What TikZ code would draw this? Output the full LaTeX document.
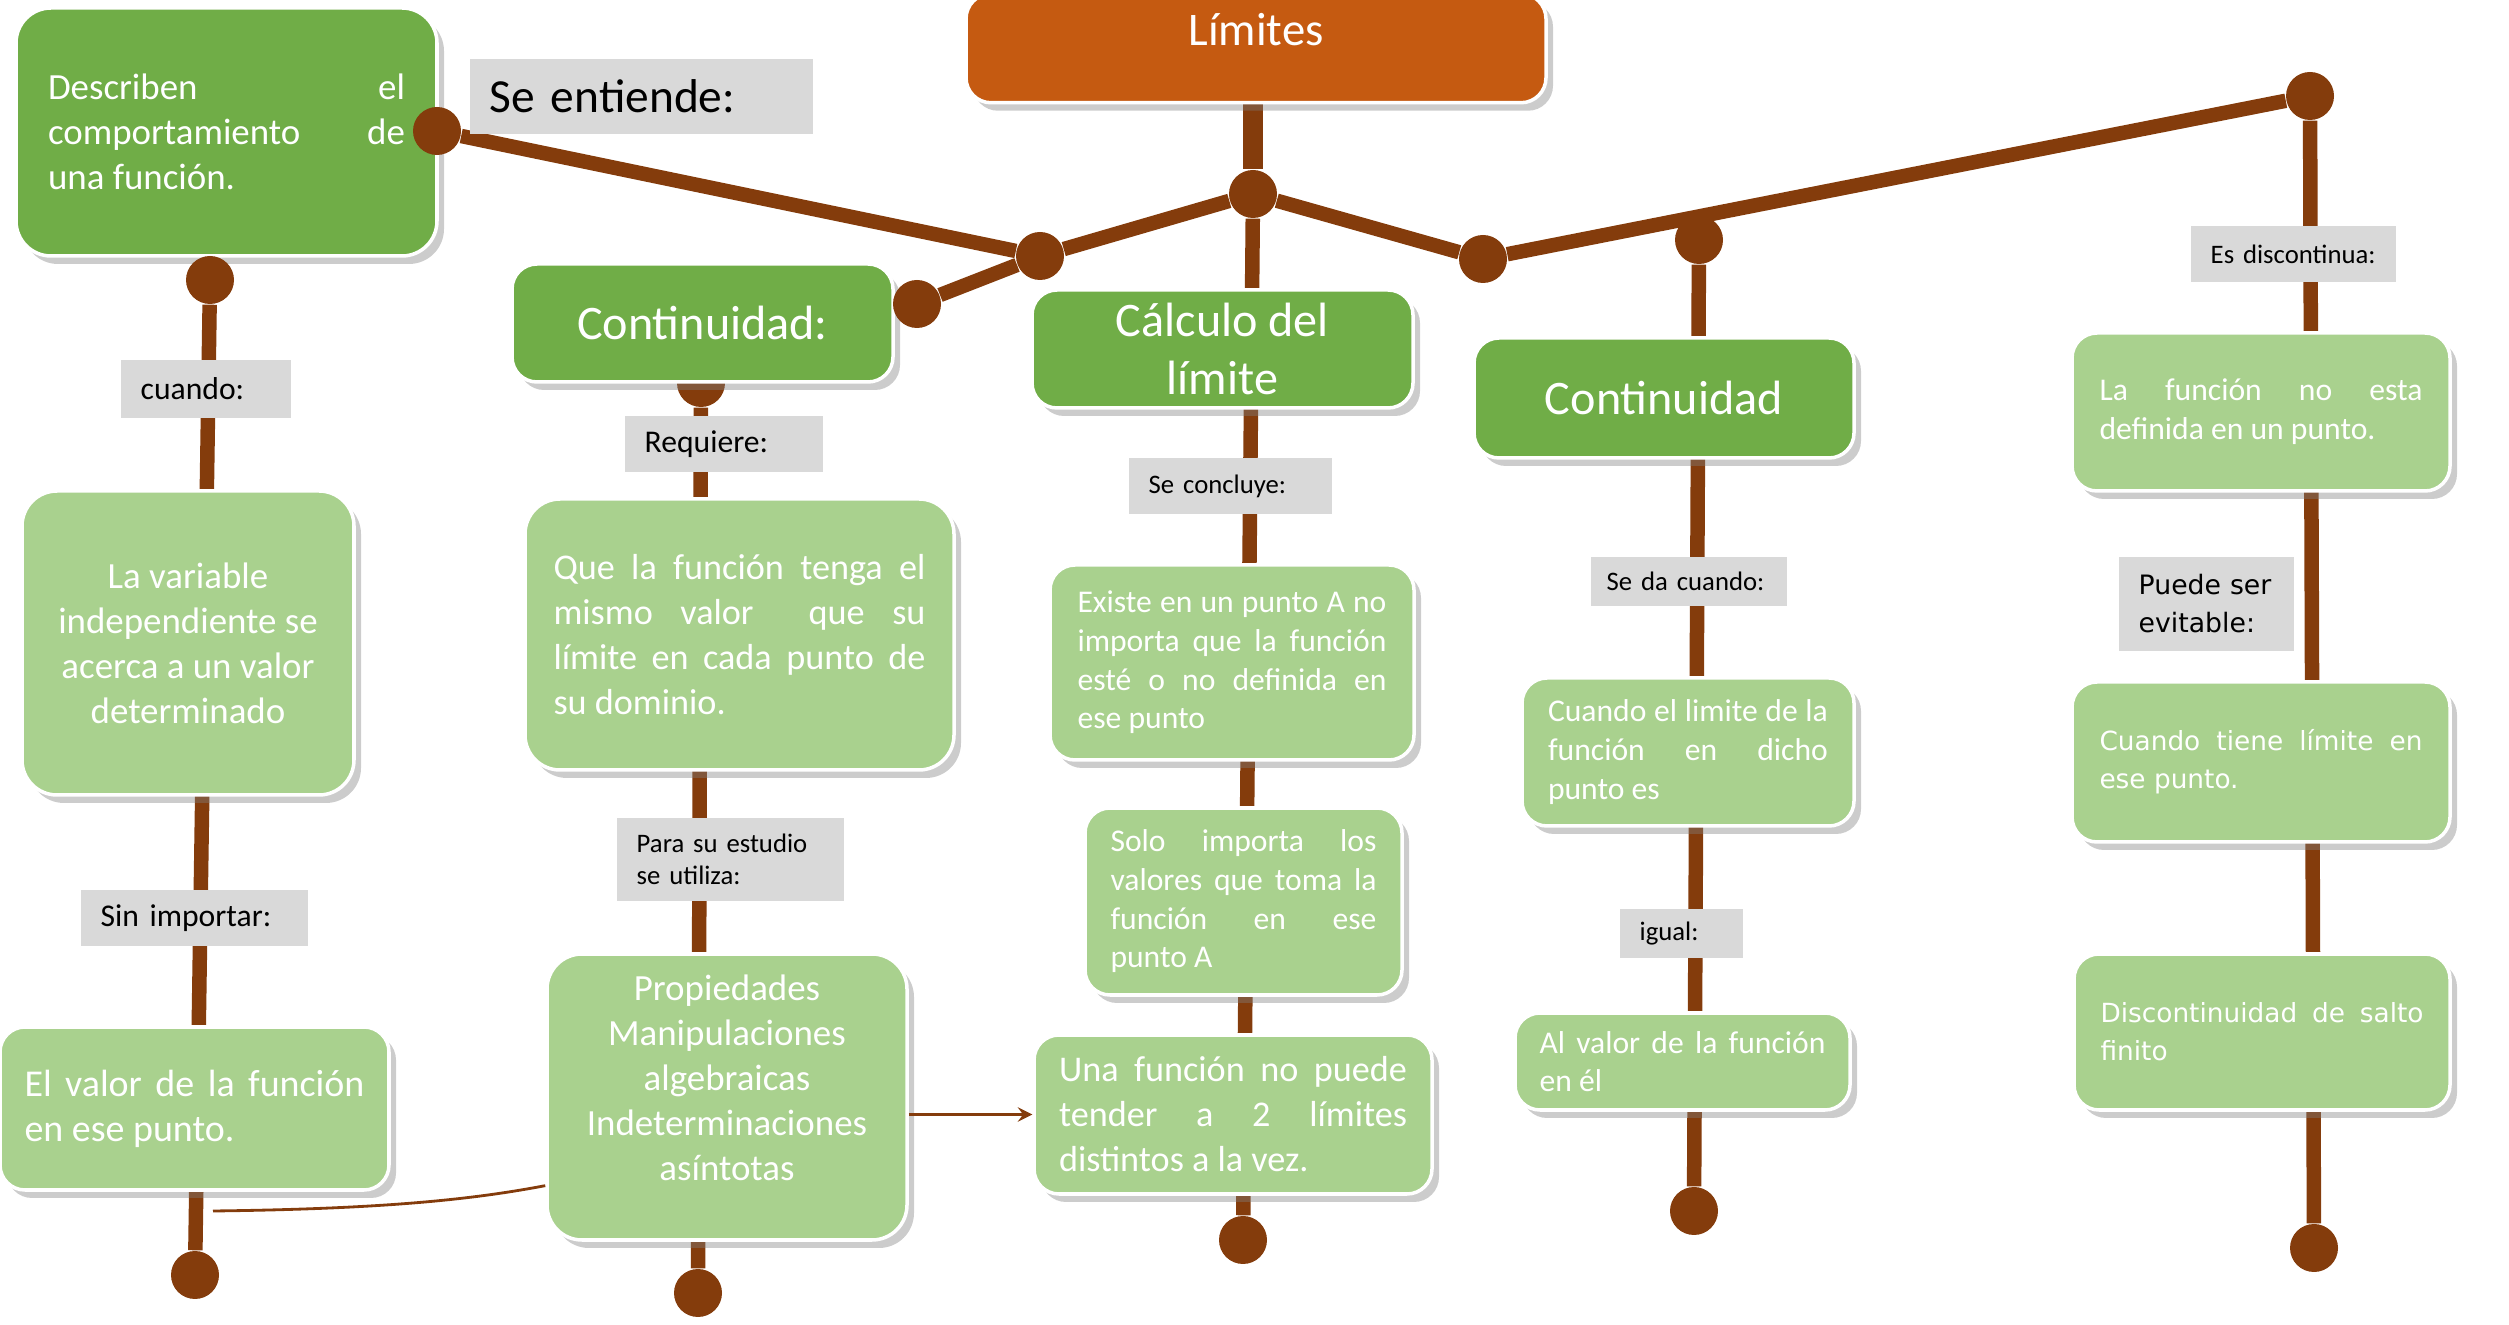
\documentclass[tikz,border=0pt]{standalone}
\usepackage{fontspec}
\setmainfont{Carlito}
\newfontfamily\dejavu{DejaVu Sans}
\usetikzlibrary{shadows,backgrounds}
\definecolor{verde}{HTML}{70AD47}
\definecolor{verdeclaro}{HTML}{A9D18E}
\definecolor{gris}{HTML}{D9D9D9}
\definecolor{naranja}{HTML}{C55A11}
\definecolor{cafe}{HTML}{843C0C}
\begin{document}
\begin{tikzpicture}[>=stealth, x=0.1mm, y=-0.1mm,
    caja/.style={draw=white, line width=1pt, rounded corners=2.5mm, text=white, inner sep=0pt,
        drop shadow={shadow xshift=0.7mm, shadow yshift=-0.8mm, fill=black!50, opacity=0.4}},
    tema/.style={caja, fill=verde, align=center, font=\fontsize{13.7}{16.5}\selectfont},
    idea/.style={caja, fill=verdeclaro},
    rotulo/.style={fill=gris, anchor=west, inner xsep=2mm, inner ysep=0pt, align=left,
        font=\fontsize{7.6}{9.1}\selectfont},
    punto/.style={circle, fill=cafe, inner sep=0pt, minimum size=4.8mm},
    rama/.style={draw=cafe, line width=1.45mm}]
    \useasboundingbox (0,0) rectangle (2509,1325);
    \node [caja, fill=naranja, anchor=north, minimum width=58mm, text height=5.2mm, text depth=5.7mm,
        font=\fontsize{13.3}{16}\selectfont] (limites) at (1256,-8) {Límites};
    \node [tema, minimum width=42.1mm, minimum height=24.8mm, rounded corners=3.5mm, text width=35.7mm,
        align=justify, font=\fontsize{10.5}{12.8}\selectfont] (describen) at (226.5,132)
        {Describen el\linebreak comportamiento de\linebreak una función.};
    \node [tema, minimum width=38.1mm, minimum height=11.8mm] (continuidad) at (702.5,323) {Continuidad:};
    \node [tema, minimum width=38.1mm, minimum height=11.8mm] (calculo) at (1222.5,349) {Cálculo del\\límite};
    \node [tema, minimum width=38mm, minimum height=12mm] (continuidadb) at (1664,398) {Continuidad};
    \node [idea, minimum width=33.2mm, minimum height=30.4mm, rounded corners=3.5mm, align=center,
        font=\fontsize{10.5}{12.8}\selectfont] (variable) at (188,643)
        {La variable\\independiente se\\acerca a un valor\\determinado};
    \node [idea, minimum width=38.9mm, minimum height=16.3mm, text width=34mm, align=justify,
        font=\fontsize{10.8}{12.8}\selectfont] (valor) at (194.5,1108.5)
        {El valor de la función\linebreak en ese punto.};
    \node [idea, minimum width=42.9mm, minimum height=27.1mm, rounded corners=3.5mm, text width=37.2mm,
        align=justify, font=\fontsize{10.3}{12.8}\selectfont] (requisito) at (739.5,634.5)
        {Que la función tenga el\linebreak mismo valor \ que su\linebreak límite en cada punto de\linebreak su dominio.};
    \node [idea, minimum width=36mm, minimum height=28.6mm, rounded corners=3.5mm, align=center,
        font=\fontsize{10.5}{12.8}\selectfont] (propiedades) at (727,1097)
        {Propiedades\\Manipulaciones\\algebraicas\\Indeterminaciones\\asíntotas\\[-0.7mm]};
    \node [idea, minimum width=36.4mm, minimum height=19.5mm, text width=30.9mm, align=justify,
        font=\fontsize{9}{11}\selectfont] (existe) at (1232,662.5)
        {Existe en un punto A no\linebreak importa que la función\linebreak esté o no definida en\linebreak ese punto};
    \node [idea, minimum width=31.7mm, minimum height=18.7mm, text width=26.6mm, align=justify,
        font=\fontsize{9}{11}\selectfont] (solo) at (1243.5,901.5)
        {Solo importa los\linebreak valores que toma la\linebreak función en ese\linebreak punto A};
    \node [idea, minimum width=39.8mm, minimum height=15.9mm, text width=34.8mm, align=justify,
        font=\fontsize{10.3}{12.8}\selectfont] (unafuncion) at (1233,1114.5)
        {Una función no puede\linebreak tender a 2 límites\linebreak distintos a la vez.};
    \node [idea, minimum width=33.2mm, minimum height=14.8mm, text width=28mm, align=justify,
        font=\fontsize{9}{11}\selectfont] (limitefun) at (1688,752)
        {Cuando el limite de la\linebreak función en dicho\linebreak punto es};
    \node [idea, minimum width=33.5mm, minimum height=9.7mm, text width=28.6mm, align=justify,
        font=\fontsize{9}{11}\selectfont] (alvalor) at (1682.5,1061.5)
        {Al valor de la función\linebreak en él};
    \node [idea, minimum width=37.8mm, minimum height=15.8mm, text width=32.3mm, align=justify,
        font=\fontsize{9}{11}\selectfont] (nodefinida) at (2261,412)
        {La función no esta\linebreak definida en un punto.};
    \node [idea, minimum width=37.8mm, minimum height=16mm, text width=32.3mm, align=justify,
        font=\dejavu\fontsize{7.5}{10.8}\selectfont] (evitable) at (2261,762)
        {Cuando tiene límite en\linebreak ese punto.};
    \node [idea, minimum width=37.6mm, minimum height=15.6mm, text width=32.3mm, align=justify,
        font=\dejavu\fontsize{7.5}{10.8}\selectfont] (salto) at (2262,1032)
        {Discontinuidad de salto\linebreak finito};
    % rotulos
    \node [rotulo, text width=30.3mm, minimum height=7.5mm, font=\fontsize{13.5}{16}\selectfont] (entiende) at (469,96.5) {Se entiende:};
    \node [rotulo, text width=13mm, minimum height=5.8mm, font=\fontsize{9}{11}\selectfont] (cuando) at (120,389) {cuando:};
    \node [rotulo, text width=18.7mm, minimum height=5.6mm, font=\fontsize{9}{11}\selectfont] (sinimportar) at (80,918) {Sin importar:};
    \node [rotulo, text width=15.8mm, minimum height=5.6mm, font=\fontsize{9}{11}\selectfont] (requiere) at (624,444) {Requiere:};
    \node [rotulo, text width=18.7mm, minimum height=8.3mm] (estudio) at (616,859.5) {Para su estudio\\se utiliza:};
    \node [rotulo, text width=16.3mm, minimum height=5.6mm] (concluye) at (1128,486) {Se concluye:};
    \node [rotulo, inner xsep=1.6mm, text width=16.4mm, minimum height=4.9mm] (sedacuando) at (1590,581.5) {Se da cuando:};
    \node [rotulo, text width=8.3mm, minimum height=4.9mm] (igual) at (1619,933.5) {igual:};
    \node [rotulo, text width=16.5mm, minimum height=5.6mm] (discontinua) at (2190,254) {Es discontinua:};
    \node [rotulo, text width=13.5mm, minimum height=9.4mm, font=\dejavu\fontsize{7.6}{10.8}\selectfont] (puede) at (2118,604) {Puede ser\\evitable:};
    % puntos
    \node [punto] (hub) at (1253,194) {};
    \node [punto] (izq) at (1040,256) {};
    \node [punto] (der) at (1483,259) {};
    \node [punto] (pde) at (437,131) {};
    \node [punto] (pcont) at (917,304) {};
    \node [punto] (pdesc) at (210,280) {};
    \node [punto] (pcontb) at (1699,240) {};
    \node [punto] (pfin) at (2310,96) {};
    \node [punto] (b1) at (195,1275) {};
    \node [punto] (b2) at (698,1293) {};
    \node [punto] (b3) at (1243,1240) {};
    \node [punto] (b4) at (1694,1211) {};
    \node [punto] (b5) at (2314,1248) {};
    \begin{scope}[on background layer]
        \node [punto] (pconta) at (701,383) {};
        \draw [rama, line width=2mm] (hub |- limites.south) -- (hub);
        \draw [rama] (pde) -- (izq) -- (hub) -- (der) -- (pfin);
        \draw [rama] (pcont) -- (izq);
        \draw [rama] (pdesc) -- (b1);
        \draw [rama] (pconta) -- (b2);
        \draw [rama] (hub) -- (b3);
        \draw [rama] (pcontb) -- (b4);
        \draw [rama] (pfin) -- (b5);
    \end{scope}
    \coordinate (inicio) at (213,1211);
    \draw [cafe, line width=0.8pt] (inicio) .. controls (380,1209) and (470,1200) .. (propiedades.206);
    \draw [->, cafe, line width=0.8pt] (propiedades.east |- unafuncion.west) -- (unafuncion.west);
\end{tikzpicture}
\end{document}
